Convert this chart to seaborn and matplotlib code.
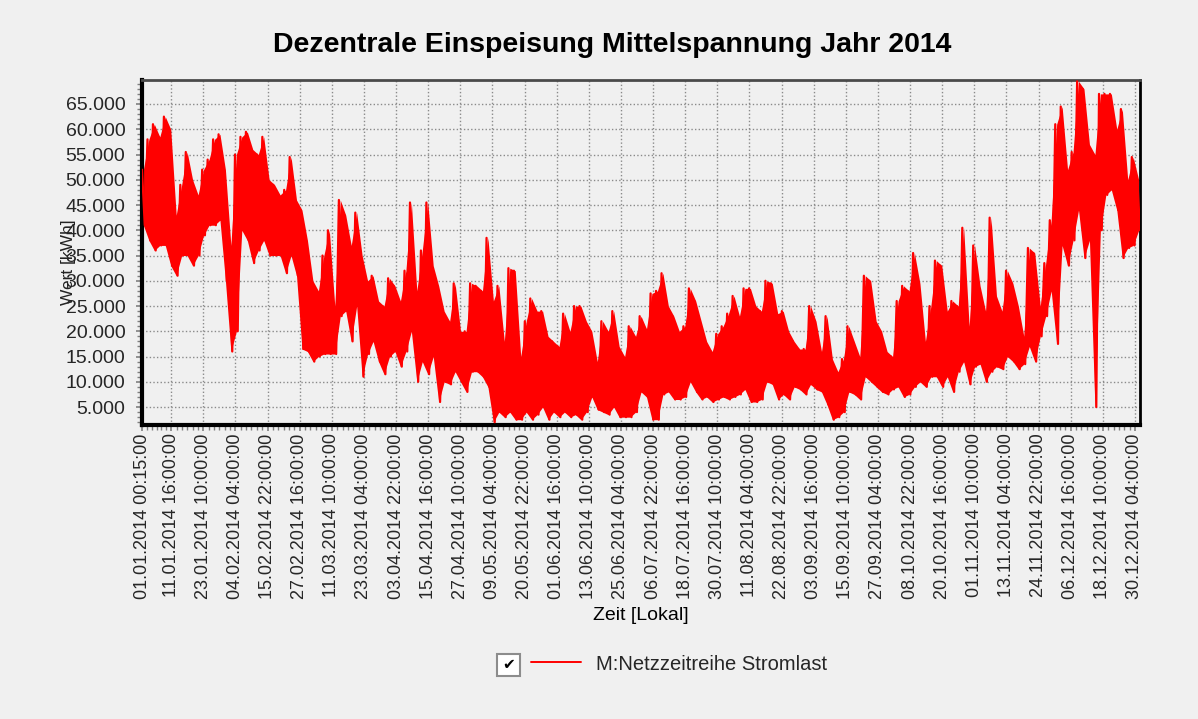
import numpy as np
import pandas as pd
import matplotlib
matplotlib.use("Agg")
import matplotlib.pyplot as plt
import matplotlib.patches as mpatches
from matplotlib.ticker import MultipleLocator, FuncFormatter
import seaborn as sns

# ---------------- data ----------------
title = "Dezentrale Einspeisung Mittelspannung Jahr 2014"
series_name = "M:Netzzeitreihe Stromlast"
x_label = "Zeit [Lokal]"
y_label = "Wert [kWh]"
start_time = "2014-01-01 00:15"

# two-day windows: upper and lower values of the load curve (kWh)
window_high = [
    52000, 58000, 61000, 58500, 62500, 60000, 43000, 49000, 55500, 50000,
    47000, 52000, 54000, 58000, 59000, 52000, 37000, 55000, 58500, 59500,
    56000, 55000, 58500, 50000, 49000, 47000, 48000, 54500, 46000, 44000,
    38000, 30000, 28000, 35000, 40000, 25000, 46000, 43000, 37000, 43500,
    35000, 30000, 31000, 26000, 25000, 30500, 29000, 26000, 32000, 45500,
    28000, 36000, 45500, 33000, 29000, 24000, 22000, 29500, 20000, 20000,
    29500, 29000, 28000, 38500, 26000, 29000, 18000, 32500, 32000, 15000,
    22000, 26500, 24000, 24000, 19000, 18000, 17000, 23500, 20000, 25000,
    25000, 22000, 20000, 14000, 22000, 20000, 24000, 17000, 15000, 21000,
    19000, 23000, 20500, 27500, 28000, 31500, 25000, 23000, 20000, 21000,
    28500, 26000, 22000, 18000, 16000, 19500, 21000, 23500, 27000, 23000,
    28500, 28500, 25000, 24000, 30000, 29500, 23500, 24000, 20000, 18000,
    16500, 16500, 25000, 22000, 16000, 23000, 14500, 12000, 14500, 21000,
    18000, 15000, 31000, 30000, 22000, 20000, 16000, 15000, 26000, 29000,
    28000, 35500, 29500, 18000, 25000, 34000, 33000, 24000, 26000, 25000,
    40500, 21000, 37000, 29000, 24000, 42500, 27000, 24000, 32000, 29500,
    25000, 19000, 36500, 35500, 25000, 33500, 42000, 61000, 64500, 52000,
    55500, 69500, 68000, 57000, 55000, 67000, 67000, 67000, 60000, 64000,
    50000, 54500, 50000,
]
window_low = [
    41000, 38000, 36000, 37000, 37000, 33000, 31000, 35000, 35000, 33000,
    35000, 39000, 41000, 41000, 42000, 30000, 16000, 20000, 40000, 38000,
    33500, 36000, 38000, 35000, 35000, 35000, 31500, 35000, 31000, 16500,
    16000, 14000, 15000, 15500, 15500, 15500, 23000, 24000, 18000, 25000,
    11000, 15500, 18000, 14000, 11500, 15000, 16000, 13000, 16000, 20000,
    10000, 14000, 11500, 15000, 6000, 10000, 9500, 12000, 10000, 8000,
    12000, 12000, 11000, 9000, 2000, 4000, 3000, 4000, 2500, 2500,
    4000, 2500, 3500, 5000, 2500, 4000, 3000, 4000, 3000, 3500,
    2500, 4000, 7000, 4500, 4000, 3500, 5000, 3000, 3000, 3000,
    4000, 8000, 7000, 2500, 2500, 7500, 8000, 6500, 6500, 7000,
    10000, 8000, 6500, 7000, 6000, 6500, 7000, 6500, 7000, 7500,
    8500, 6000, 6000, 6500, 10000, 9500, 6500, 7500, 6500, 9000,
    8500, 7500, 9500, 8500, 8000, 5500, 2500, 3000, 4000, 8000,
    7500, 6500, 11000, 10000, 9000, 8000, 7500, 8500, 9000, 7000,
    7500, 9000, 10000, 9000, 11000, 11000, 9000, 11000, 8000, 12000,
    14000, 9500, 13000, 13500, 10000, 12000, 13000, 12500, 15000, 14000,
    12500, 13500, 17000, 14000, 19000, 23000, 28000, 17500, 37000, 33000,
    38000, 44000, 34500, 38000, 5000, 40000, 47000, 48000, 44000, 34500,
    36500, 37000, 40000,
]

xtick_labels = [
    "01.01.2014 00:15:00", "11.01.2014 16:00:00", "23.01.2014 10:00:00",
    "04.02.2014 04:00:00", "15.02.2014 22:00:00", "27.02.2014 16:00:00",
    "11.03.2014 10:00:00", "23.03.2014 04:00:00", "03.04.2014 22:00:00",
    "15.04.2014 16:00:00", "27.04.2014 10:00:00", "09.05.2014 04:00:00",
    "20.05.2014 22:00:00", "01.06.2014 16:00:00", "13.06.2014 10:00:00",
    "25.06.2014 04:00:00", "06.07.2014 22:00:00", "18.07.2014 16:00:00",
    "30.07.2014 10:00:00", "11.08.2014 04:00:00", "22.08.2014 22:00:00",
    "03.09.2014 16:00:00", "15.09.2014 10:00:00", "27.09.2014 04:00:00",
    "08.10.2014 22:00:00", "20.10.2014 16:00:00", "01.11.2014 10:00:00",
    "13.11.2014 04:00:00", "24.11.2014 22:00:00", "06.12.2014 16:00:00",
    "18.12.2014 10:00:00", "30.12.2014 04:00:00",
]
ytick_values = [5000, 10000, 15000, 20000, 25000, 30000, 35000,
                40000, 45000, 50000, 55000, 60000, 65000]

# ---------------- build tables ----------------
values = [v for pair in zip(window_high, window_low) for v in pair]
times = pd.date_range(start_time, periods=len(values), freq="D")
df = pd.DataFrame({"Zeit": times, "Wert": values})
window_times = pd.date_range(pd.Timestamp(start_time) + pd.Timedelta(hours=12),
                             periods=len(window_high), freq="2D")

# ---------------- style ----------------
sns.set_theme(style="white")
plt.rcParams["font.family"] = ["Liberation Sans", "DejaVu Sans"]
BG = "#f0f0f0"
RED = "#ff0000"

fig = plt.figure(figsize=(11.98, 7.19), dpi=100, facecolor=BG)
ax = fig.add_axes([142 / 1198, 1 - 425 / 719, (1140 - 142) / 1198, (425 - 80) / 719])
ax.set_facecolor(BG)

# dense 15-minute trace shows as a band between the window extremes
ax.fill_between(window_times, window_low, window_high, color=RED,
                linewidth=0, zorder=2)
sns.lineplot(data=df, x="Zeit", y="Wert", ax=ax, color=RED,
             linewidth=1.6, estimator=None, label=series_name, zorder=3)

handles, labels = ax.get_legend_handles_labels()
ax.get_legend().remove()

# axis ranges
ax.set_xlim(pd.Timestamp("2014-01-01 00:00"), pd.Timestamp("2014-12-31 23:59"))
ax.set_ylim(1450, 69750)

# x ticks
tick_times = pd.to_datetime(xtick_labels, format="%d.%m.%Y %H:%M:%S")
ax.set_xticks(tick_times)
ax.set_xticklabels(xtick_labels, rotation=90, fontsize=13)
minor_times = []
for a, b in zip(tick_times[:-1], tick_times[1:]):
    step = (b - a) / 6
    minor_times += [a + step * k for k in range(1, 6)]
ax.set_xticks(minor_times, minor=True)

# y ticks
ax.set_yticks(ytick_values)
ax.yaxis.set_major_formatter(FuncFormatter(lambda v, p: f"{int(v):,}".replace(",", ".")))
ax.yaxis.set_minor_locator(MultipleLocator(1000))
ax.tick_params(axis="y", labelsize=14)

ax.tick_params(which="major", direction="out", length=4, width=1.2,
               color="#808080", left=True, bottom=True)
ax.tick_params(axis="y", which="major", pad=8)
ax.tick_params(axis="x", which="major", pad=2)
ax.tick_params(which="minor", direction="out", length=3.5, width=1.0,
               color="#808080", left=True, bottom=True)

# grid
ax.grid(True, which="major", color="#8a8a8a", linestyle=(0, (1, 1.6)), linewidth=1.0)
ax.set_axisbelow(True)

# spines
for side in ["left", "bottom"]:
    ax.spines[side].set_color("black")
    ax.spines[side].set_linewidth(3)
ax.spines["right"].set_color("black")
ax.spines["right"].set_linewidth(2)
ax.spines["top"].set_color("#4a4a4a")
ax.spines["top"].set_linewidth(2)
for s in ax.spines.values():
    s.set_visible(True)

ax.set_xlabel("")
ax.set_ylabel("")

# texts
fig.text(612 / 1198, 1 - 45 / 719, title, ha="center", va="center",
         fontsize=20.5, fontweight="bold", color="black")
fig.text(69 / 1198, 1 - 262 / 719, y_label, rotation=90, ha="center",
         va="center", fontsize=12.5, color="#222222")
fig.text(641 / 1198, 1 - 616 / 719, x_label, ha="center", va="center",
         fontsize=14, color="black")

# legend with checkbox
fs = 14.5
fs_px = fs * 100 / 72
fig.legend(handles, labels, loc="center left",
           bbox_to_anchor=(531 / 1198, 1 - 664 / 719),
           frameon=False, fontsize=fs, handlelength=50 / fs_px,
           handletextpad=15 / fs_px, borderpad=0, borderaxespad=0)
for h in fig.legends[0].legend_handles:
    h.set_linewidth(1.4)
box = mpatches.Rectangle((497 / 1198, 1 - 676 / 719), 23 / 1198, 22 / 719,
                         transform=fig.transFigure, facecolor="white",
                         edgecolor="#8c8c8c", linewidth=1.5)
fig.patches.append(box)
fig.text(508.5 / 1198, 1 - 665 / 719, "\u2714", ha="center", va="center",
         fontsize=11, family=["DejaVu Sans"], color="black")

fig.savefig("out.png", dpi=100, facecolor=BG)
